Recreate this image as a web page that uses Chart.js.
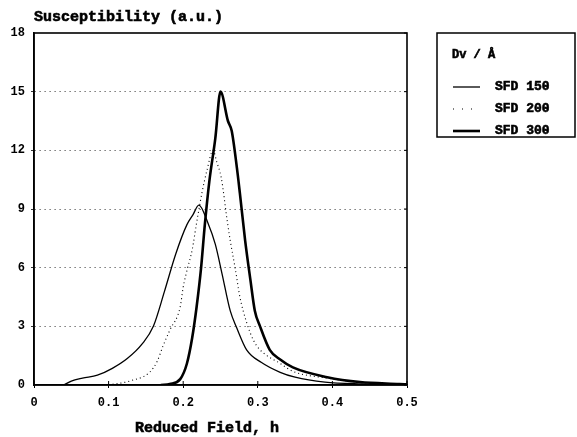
<!DOCTYPE html>
<html>
<head>
<meta charset="utf-8">
<script src="https://cdn.jsdelivr.net/npm/chart.js@4/dist/chart.umd.min.js"></script>
<style>
html,body{margin:0;padding:0;background:#fff;}
#wrap{position:relative;width:577px;height:437px;}
</style>
</head>
<body>
<div id="wrap"><canvas id="c" width="577" height="437"></canvas></div>
<script>
// ---- data ----
const seriesNames = ["SFD 150", "SFD 200", "SFD 300"];
const legendHeader = "Dv / Å";
const yTitle = "Susceptibility (a.u.)";
const xTitle = "Reduced Field, h";
const xTicks = [0, 0.1, 0.2, 0.3, 0.4, 0.5];
const yTicks = [0, 3, 6, 9, 12, 15, 18];

const h150 = [0.040, 0.050, 0.065, 0.085, 0.105, 0.125, 0.145, 0.160, 0.175, 0.190, 0.205, 0.213, 0.221, 0.233, 0.243, 0.252, 0.263, 0.272, 0.285, 0.305, 0.330, 0.350, 0.390, 0.440, 0.500];
const v150 = [0.00, 0.20, 0.35, 0.50, 0.85, 1.35, 2.10, 3.00, 4.80, 6.70, 8.20, 8.70, 9.20, 8.30, 7.20, 5.70, 3.80, 2.90, 1.80, 1.15, 0.65, 0.40, 0.15, 0.06, 0.02];

const h200 = [0.100, 0.130, 0.155, 0.165, 0.173, 0.182, 0.196, 0.200, 0.206, 0.212, 0.218, 0.225, 0.232, 0.240, 0.245, 0.251, 0.259, 0.263, 0.270, 0.276, 0.285, 0.294, 0.303, 0.330, 0.347, 0.393, 0.440, 0.500];
const v200 = [0.00, 0.22, 0.65, 1.20, 2.00, 2.80, 4.00, 5.00, 6.00, 6.90, 8.30, 9.80, 11.0, 12.0, 11.4, 10.6, 8.40, 7.40, 5.90, 4.50, 3.20, 2.30, 1.80, 1.10, 0.70, 0.35, 0.12, 0.03];

const h300 = [0.170, 0.182, 0.196, 0.205, 0.212, 0.218, 0.224, 0.229, 0.235, 0.243, 0.250, 0.260, 0.265, 0.272, 0.276, 0.283, 0.290, 0.296, 0.303, 0.316, 0.330, 0.347, 0.393, 0.437, 0.490, 0.500];
const v300 = [0.00, 0.05, 0.30, 1.10, 2.40, 4.00, 6.00, 8.20, 10.4, 12.6, 15.0, 13.5, 13.0, 11.1, 9.80, 7.40, 5.40, 3.80, 3.00, 1.80, 1.30, 0.90, 0.40, 0.15, 0.05, 0.03];

const FONT = "'Liberation Mono', 'DejaVu Sans Mono', monospace";

function pts(hs, vs) { return hs.map((h, i) => ({ x: h, y: vs[i] })); }

const styles = [
  { borderWidth: 1.3, borderDash: [] },
  { borderWidth: 1.1, borderDash: [1, 3] },
  { borderWidth: 2.6, borderDash: [] }
];

const datasets = [pts(h150, v150), pts(h200, v200), pts(h300, v300)].map((d, i) => ({
  label: seriesNames[i],
  data: d,
  borderColor: '#000',
  backgroundColor: '#000',
  borderWidth: styles[i].borderWidth,
  borderDash: styles[i].borderDash,
  pointRadius: 0,
  fill: false,
  cubicInterpolationMode: 'monotone'
}));

function boldText(ctx, txt, x, y) {
  ctx.fillText(txt, x, y);
  ctx.lineWidth = 0.6;
  ctx.strokeText(txt, x, y);
}

const extras = {
  id: 'extras',
  afterDraw(chart) {
    const ctx = chart.ctx;
    const a = chart.chartArea;
    ctx.save();
    // frame
    ctx.strokeStyle = '#000';
    ctx.lineWidth = 1.6;
    ctx.strokeRect(a.left, a.top, a.right - a.left, a.bottom - a.top);
    // small inward ticks on bottom and right
    const xs = chart.scales.x, ys = chart.scales.y;
    ctx.lineWidth = 1;
    xTicks.forEach(t => {
      const px = xs.getPixelForValue(t);
      ctx.beginPath(); ctx.moveTo(px, a.bottom); ctx.lineTo(px, a.bottom - 4); ctx.stroke();
    });
    yTicks.forEach(t => {
      const py = ys.getPixelForValue(t);
      ctx.beginPath(); ctx.moveTo(a.right, py); ctx.lineTo(a.right - 3, py); ctx.stroke();
    });
    // titles
    ctx.fillStyle = '#000';
    ctx.strokeStyle = '#000';
    ctx.font = "bold 15px " + FONT;
    ctx.textAlign = 'left';
    ctx.textBaseline = 'alphabetic';
    boldText(ctx, yTitle, a.left, 21);
    ctx.font = "bold 15px " + FONT;
    ctx.textAlign = 'center';
    boldText(ctx, xTitle, 207, 432);
    // legend
    const lx = 437, ly = 33, lw = 138, lh = 104;
    ctx.lineWidth = 1.5;
    ctx.strokeRect(lx, ly, lw, lh);
    ctx.textAlign = 'left';
    ctx.textBaseline = 'middle';
    ctx.font = "bold 12px " + FONT;
    boldText(ctx, legendHeader, 452, 55);
    ctx.font = "bold 13px " + FONT;
    const rows = [87, 109, 131];
    rows.forEach((ry, i) => {
      ctx.beginPath();
      ctx.lineWidth = styles[i].borderWidth;
      ctx.setLineDash(i === 1 ? [1, 8] : []);
      ctx.moveTo(453, ry); ctx.lineTo(480, ry);
      ctx.stroke();
      ctx.setLineDash([]);
      boldText(ctx, seriesNames[i], 495, ry);
    });
    ctx.restore();
  }
};

new Chart(document.getElementById('c'), {
  type: 'line',
  data: { datasets },
  plugins: [extras],
  options: {
    responsive: false,
    animation: false,
    layout: { padding: { top: 33, right: 170, left: 0, bottom: 0 } },
    plugins: { legend: { display: false }, tooltip: { enabled: false }, title: { display: false } },
    scales: {
      x: {
        type: 'linear', min: 0, max: 0.5,
        afterBuildTicks: s => { s.ticks = xTicks.map(v => ({ value: v })); },
        afterFit: s => { s.height = 52; },
        ticks: {
          color: '#000', padding: 8, maxRotation: 0,
          font: { family: FONT, weight: 'bold', size: 12 },
          callback: v => v === 0 ? '0' : Number(v).toFixed(1)
        },
        grid: { display: true, drawOnChartArea: false, drawTicks: true, tickLength: 3, color: '#000' },
        border: { display: true, color: '#000', width: 1.6 }
      },
      y: {
        min: 0, max: 18,
        afterBuildTicks: s => { s.ticks = yTicks.map(v => ({ value: v })); },
        afterFit: s => { s.width = 34; },
        ticks: {
          color: '#000', padding: 6,
          font: { family: FONT, weight: 'bold', size: 12 },
          callback: v => String(v)
        },
        grid: {
          display: true, drawTicks: true, tickLength: 3,
          color: ctx => (ctx.tick && (ctx.tick.value === 0 || ctx.tick.value === 18)) ? 'rgba(0,0,0,0)' : '#333',
          lineWidth: 1
        },
        border: { display: true, color: '#000', width: 1.6, dash: [1, 4] }
      }
    }
  }
});
</script>
</body>
</html>
